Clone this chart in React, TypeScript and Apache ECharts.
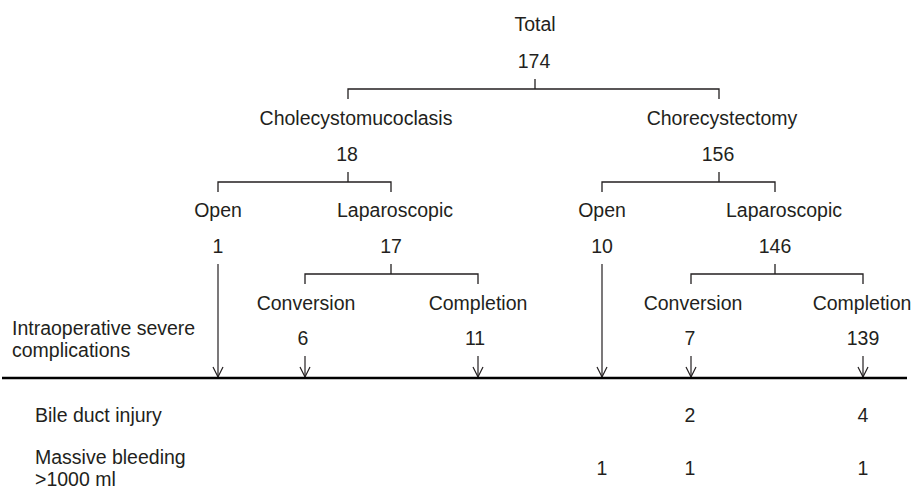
import React, { useEffect, useRef } from 'react';
import * as echarts from 'echarts';

// ---- data ----
const nodeNames = ['Total', 'Cholecystomucoclasis', 'Chorecystectomy', 'Open', 'Laparoscopic', 'Open', 'Laparoscopic', 'Conversion', 'Completion', 'Conversion', 'Completion'];
const nodeCounts = [174, 18, 156, 1, 17, 10, 146, 6, 11, 7, 139];
const nodeParents = [-1, 0, 0, 1, 1, 2, 2, 4, 4, 6, 6];
const leafNodes = [3, 7, 8, 5, 9, 10];
const stageLabel = 'Intraoperative severe\ncomplications';
const complicationNames = ['Bile duct injury', 'Massive bleeding\n>1000 ml'];
const bileDuctInjury: (number | null)[] = [null, null, null, null, 2, 4];
const massiveBleeding: (number | null)[] = [null, null, null, 1, 1, 1];
const complicationValues = [bileDuctInjury, massiveBleeding];

// ---- layout (diagram coordinates) ----
const nodeX = [535, 348, 719, 218, 391, 602, 775, 305, 478, 691, 863];
const nameX = [535, 356, 722, 218, 395, 602, 784, 306, 478, 693, 862];
const countX = [534, 347, 718, 218, 391, 602, 775, 303, 475, 690, 863];
const nodeLevel = [0, 1, 1, 2, 2, 2, 2, 3, 3, 3, 3];
const levelNameY = [24, 117.5, 209.5, 303];
const levelCountY = [61, 154, 246, 338];
const levelBracketY = [89, 182, 274];
const baseY = 378;
const rowY = [415, 468];
const rowLabelX = 35;
const stageLabelPos = [12, 339];

const INK = '#231f20';
const FONT = '"Liberation Sans", Arial, Helvetica, sans-serif';
const FS = 19.5;

const internalNodes = nodeNames.map((_, i) => i).filter((i) => nodeParents.includes(i));

function txt(api: any, x: number, y: number, text: string, align = 'center') {
  const p = api.coord([x, y]);
  return {
    type: 'text',
    x: p[0],
    y: p[1],
    style: {
      text,
      fill: INK,
      fontSize: FS,
      fontFamily: FONT,
      align,
      verticalAlign: 'middle',
      lineHeight: 22,
    },
  };
}

export default function App() {
  const ref = useRef<HTMLDivElement>(null);
  useEffect(() => {
    if (!ref.current) return;
    const chart = echarts.init(ref.current, undefined, { renderer: 'svg' });
    const option: any = {
      animation: false,
      backgroundColor: '#ffffff',
      grid: { left: 0, right: 0, top: 0, bottom: 0 },
      xAxis: { type: 'value', min: 0, max: 914, show: false },
      yAxis: { type: 'value', min: 0, max: 503, inverse: true, show: false },
      series: [
        {
          type: 'custom',
          name: 'brackets',
          silent: true,
          clip: false,
          data: internalNodes.map((i) => [nodeX[i], levelBracketY[nodeLevel[i]]]),
          renderItem: (params: any, api: any) => {
            const i = internalNodes[params.dataIndex];
            const by = levelBracketY[nodeLevel[i]];
            const kids = nodeParents.map((p, k) => (p === i ? k : -1)).filter((k) => k >= 0);
            const xs = kids.map((k) => nodeX[k]);
            const l = Math.min(...xs);
            const r = Math.max(...xs);
            const pts = [
              api.coord([l, by + 10]),
              api.coord([l, by]),
              api.coord([r, by]),
              api.coord([r, by + 10]),
            ];
            const t1 = api.coord([nodeX[i], by - 10]);
            const t2 = api.coord([nodeX[i], by]);
            return {
              type: 'group',
              children: [
                { type: 'polyline', shape: { points: pts }, style: { stroke: INK, fill: 'none', lineWidth: 1.3 } },
                { type: 'line', shape: { x1: t1[0], y1: t1[1], x2: t2[0], y2: t2[1] }, style: { stroke: INK, lineWidth: 1.3 } },
              ],
            };
          },
        },
        {
          type: 'custom',
          name: 'arrows',
          silent: true,
          clip: false,
          data: leafNodes.map((i) => [nodeX[i], baseY]),
          renderItem: (params: any, api: any) => {
            const i = leafNodes[params.dataIndex];
            const x = nodeX[i];
            const top = levelCountY[nodeLevel[i]] + 18;
            const a = api.coord([x, top]);
            const b = api.coord([x, baseY - 1]);
            const h = [api.coord([x - 5, baseY - 11]), b, api.coord([x + 5, baseY - 11])];
            return {
              type: 'group',
              children: [
                { type: 'line', shape: { x1: a[0], y1: a[1], x2: b[0], y2: b[1] }, style: { stroke: INK, lineWidth: 1.2 } },
                { type: 'polyline', shape: { points: h }, style: { stroke: INK, fill: 'none', lineWidth: 1.2 } },
              ],
            };
          },
        },
        {
          type: 'custom',
          name: 'baseline',
          silent: true,
          clip: false,
          data: [[2, baseY]],
          renderItem: (params: any, api: any) => {
            const a = api.coord([2, baseY]);
            const b = api.coord([907, baseY]);
            return { type: 'line', shape: { x1: a[0], y1: a[1], x2: b[0], y2: b[1] }, style: { stroke: '#000', lineWidth: 2.6 } };
          },
        },
        {
          type: 'custom',
          name: 'nodes',
          silent: true,
          clip: false,
          data: nodeNames.map((_, i) => [nodeX[i], levelNameY[nodeLevel[i]]]),
          renderItem: (params: any, api: any) => {
            const i = params.dataIndex;
            const lv = nodeLevel[i];
            return {
              type: 'group',
              children: [
                txt(api, nameX[i], levelNameY[lv], nodeNames[i]),
                txt(api, countX[i], levelCountY[lv], String(nodeCounts[i])),
              ],
            };
          },
        },
        {
          type: 'custom',
          name: 'rows',
          silent: true,
          clip: false,
          data: complicationNames.map((_, r) => [rowLabelX, rowY[r]]),
          renderItem: (params: any, api: any) => {
            const r = params.dataIndex;
            const children: any[] = [txt(api, rowLabelX, rowY[r], complicationNames[r], 'left')];
            complicationValues[r].forEach((v, j) => {
              if (v !== null) children.push(txt(api, countX[leafNodes[j]], rowY[r], String(v)));
            });
            if (r === 0) children.push(txt(api, stageLabelPos[0], stageLabelPos[1], stageLabel, 'left'));
            return { type: 'group', children };
          },
        },
      ],
    };
    chart.setOption(option);
    return () => chart.dispose();
  }, []);
  return <div ref={ref} style={{ position: 'absolute', left: 0, top: 0, width: 914, height: 503 }} />;
}
